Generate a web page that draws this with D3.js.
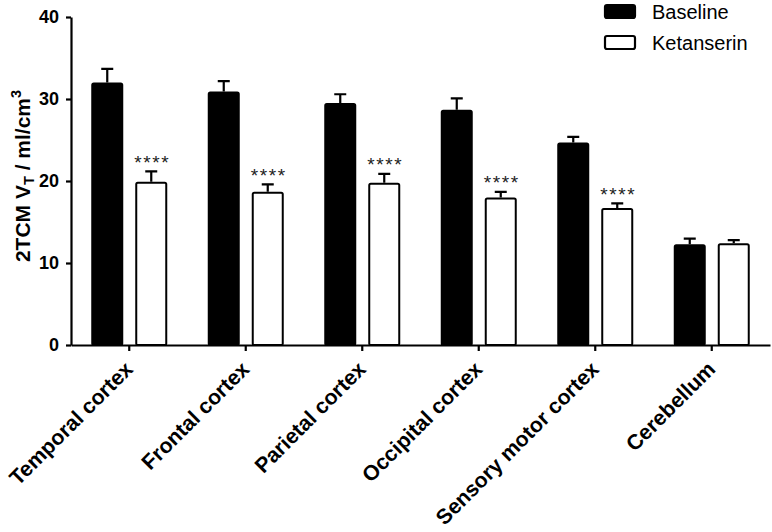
<!DOCTYPE html>
<html>
<head>
<meta charset="utf-8">
<script src="https://cdn.jsdelivr.net/npm/d3@7"></script>
<style>
  html, body { margin: 0; padding: 0; background: #fff; }
  svg { display: block; }
  text { font-family: "Liberation Sans", Arial, Helvetica, sans-serif; }
</style>
</head>
<body>
<svg id="chart" width="772" height="532"></svg>
<script>
// ---- Data ----
const categories = ["Temporal cortex", "Frontal cortex", "Parietal cortex", "Occipital cortex", "Sensory motor cortex", "Cerebellum"];
const series = ["Baseline", "Ketanserin"];
const baseline = [32.0, 30.9, 29.5, 28.7, 24.7, 12.3];
const baselineErr = [1.8, 1.4, 1.2, 1.5, 0.8, 0.8];
const ketanserin = [19.9, 18.7, 19.8, 18.0, 16.7, 12.4];
const ketanserinErr = [1.4, 1.0, 1.2, 0.8, 0.7, 0.5];
const significance = ["****", "****", "****", "****", "****", ""];
const yTicks = [0, 10, 20, 30, 40];

const rows = categories.map((c, i) => ({
  category: c,
  values: [
    { key: series[0], value: baseline[i], err: baselineErr[i] },
    { key: series[1], value: ketanserin[i], err: ketanserinErr[i] }
  ],
  sig: significance[i]
}));

const svg = d3.select("#chart");

const x0 = d3.scaleBand().domain(categories).range([71, 770]).padding(0);
const half = x0.bandwidth() / 2;
const x1 = d3.scaleBand().domain(series).range([half - 38, half + 38]).paddingInner(0.2727).paddingOuter(0);
const y = d3.scaleLinear().domain([0, 40]).range([345, 17]);

const fills = { "Baseline": "#000", "Ketanserin": "#fff" };

// Bars
const groups = svg.append("g").selectAll("g.grp")
  .data(rows).join("g")
  .attr("transform", d => `translate(${x0(d.category)},0)`);

groups.selectAll("rect.bar")
  .data(d => d.values).join("rect")
  .attr("class", "bar")
  .attr("x", d => x1(d.key) + 1)
  .attr("y", d => y(d.value) + 1)
  .attr("width", x1.bandwidth() - 2)
  .attr("height", d => y(0) - y(d.value) - 1)
  .attr("rx", 1.5)
  .attr("fill", d => fills[d.key])
  .attr("stroke", "#000")
  .attr("stroke-width", 2);

// Error bars (upper only)
groups.selectAll("path.err")
  .data(d => d.values).join("path")
  .attr("class", "err")
  .attr("d", d => {
    const cx = x1(d.key) + x1.bandwidth() / 2;
    const top = y(d.value + d.err) + 1;
    return `M${cx},${y(d.value)}V${top}M${cx - 6},${top}H${cx + 6}`;
  })
  .attr("fill", "none")
  .attr("stroke", "#000")
  .attr("stroke-width", 2.2);

// Significance stars
groups.append("text")
  .attr("x", d => x1(series[1]) + x1.bandwidth() / 2 + 1)
  .attr("y", d => y(d.values[1].value + d.values[1].err) - 1.5)
  .attr("text-anchor", "middle")
  .attr("font-size", 19)
  .attr("letter-spacing", 1.6)
  .attr("fill", "#222")
  .text(d => d.sig);

// Y axis
const yAxis = svg.append("g")
  .attr("transform", "translate(71,0)")
  .call(d3.axisLeft(y).tickValues(yTicks).tickSize(5).tickSizeOuter(0).tickPadding(7));
yAxis.select(".domain").attr("stroke", "#000").attr("stroke-width", 2.2);
yAxis.selectAll(".tick line").attr("stroke", "#000").attr("stroke-width", 2.2);
yAxis.selectAll(".tick text")
  .attr("font-family", "Liberation Sans, Arial, sans-serif")
  .attr("font-size", 18).attr("font-weight", "bold").attr("fill", "#000");

// X axis
const xAxis = svg.append("g")
  .attr("transform", "translate(0,345)")
  .call(d3.axisBottom(x0).tickSize(6).tickSizeOuter(0));
xAxis.select(".domain").attr("stroke", "#000").attr("stroke-width", 2.2);
xAxis.selectAll(".tick line").attr("stroke", "#000").attr("stroke-width", 2.2);
xAxis.selectAll(".tick text")
  .attr("font-family", "Liberation Sans, Arial, sans-serif")
  .attr("font-size", 21.3).attr("font-weight", "bold").attr("fill", "#000")
  .attr("text-anchor", "end")
  .attr("x", 0).attr("y", 0).attr("dy", 0)
  .attr("transform", "translate(5,25.5) rotate(-45)");

// Y axis title
const yt = svg.append("text")
  .attr("transform", "translate(30,176) rotate(-90)")
  .attr("text-anchor", "middle")
  .attr("font-size", 21)
  .attr("font-weight", "bold")
  .attr("fill", "#000");
yt.append("tspan").text("2TCM V");
yt.append("tspan").attr("font-size", 14.5).attr("dy", 4).text("T");
yt.append("tspan").attr("dy", -4).text(" / ml/cm");
yt.append("tspan").attr("font-size", 14.5).attr("dy", -9).text("3");

// Legend
const legend = svg.append("g").selectAll("g")
  .data(series).join("g")
  .attr("transform", (d, i) => `translate(0,${i * 31})`);
legend.append("rect")
  .attr("x", 605).attr("y", 5)
  .attr("width", 30).attr("height", 13)
  .attr("rx", 2)
  .attr("fill", d => fills[d])
  .attr("stroke", "#000").attr("stroke-width", 2.2);
legend.append("text")
  .attr("x", 652).attr("y", 18.5)
  .attr("font-size", 20)
  .attr("fill", "#000")
  .text(d => d);
</script>
</body>
</html>
